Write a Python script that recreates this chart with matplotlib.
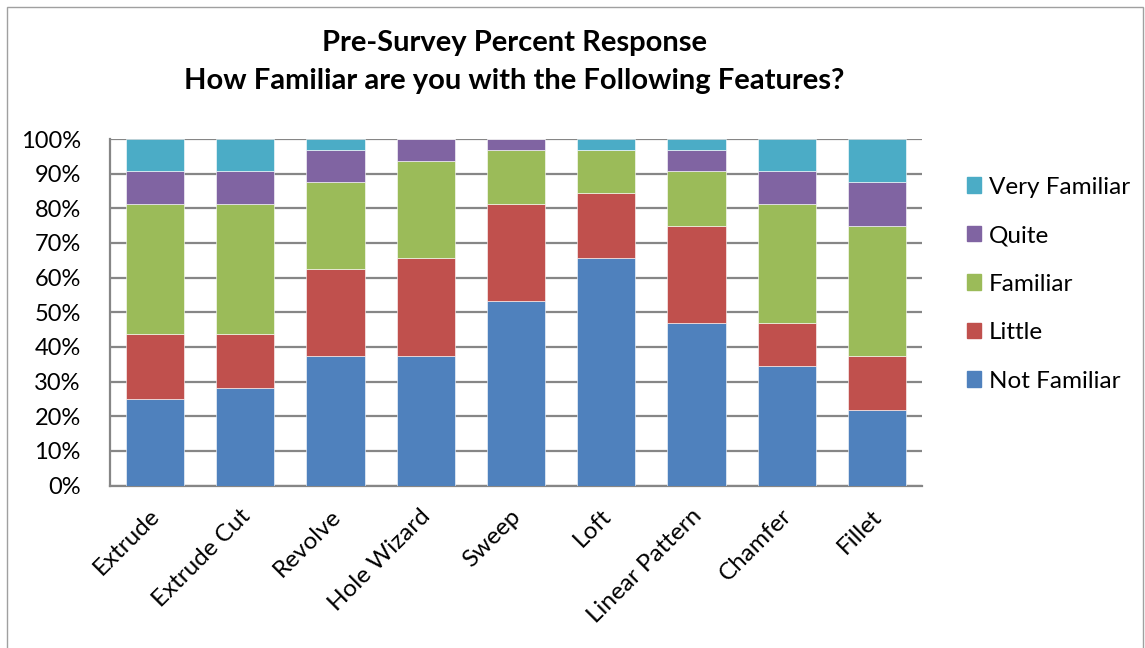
import matplotlib
matplotlib.use("Agg")
import matplotlib.pyplot as plt
import matplotlib.transforms as mtransforms
import numpy as np
from matplotlib.patches import Rectangle, Patch

plt.rcParams['font.family'] = ['Lato', 'DejaVu Sans']

categories = ["Extrude", "Extrude Cut", "Revolve", "Hole Wizard", "Sweep",
              "Loft", "Linear Pattern", "Chamfer", "Fillet"]
not_familiar = [25.0, 28.125, 37.5, 37.5, 53.125, 65.625, 46.875, 34.375, 21.875]
little = [18.75, 15.625, 25.0, 28.125, 28.125, 18.75, 28.125, 12.5, 15.625]
familiar = [37.5, 37.5, 25.0, 28.125, 15.625, 12.5, 15.625, 34.375, 37.5]
quite = [9.375, 9.375, 9.375, 6.25, 3.125, 0.0, 6.25, 9.375, 12.5]
very_familiar = [9.375, 9.375, 3.125, 0.0, 0.0, 3.125, 3.125, 9.375, 12.5]

series_names = ["Not Familiar", "Little", "Familiar", "Quite", "Very Familiar"]
series_values = [not_familiar, little, familiar, quite, very_familiar]
colors = ["#4F81BD", "#C0504D", "#9BBB59", "#8064A2", "#4BACC6"]
yticks = [0, 10, 20, 30, 40, 50, 60, 70, 80, 90, 100]

W, H = 1145, 648
fig = plt.figure(figsize=(W / 100, H / 100), dpi=100)

# outer border
fig.patches.append(Rectangle((7 / W, -0.01), (W - 9) / W, (H - 7) / H + 0.01,
                             transform=fig.transFigure, fill=False,
                             edgecolor="#a0a0a0", lw=1.0))

ax = fig.add_axes([110 / W, 1 - 485.5 / H, (922 - 110) / W, (485.5 - 139) / H])

x = np.arange(len(categories))
bottom = np.zeros(len(categories))
handles = []
for name, vals, c in zip(series_names, series_values, colors):
    vals = np.array(vals)
    ax.bar(x, vals, bottom=bottom, width=0.645, color=c, edgecolor="white",
           linewidth=0.4, zorder=3)
    bottom += vals
    handles.append(Patch(facecolor=c, edgecolor=c, label=name))

ax.set_xlim(-0.5, len(categories) - 0.5)
ax.set_ylim(0, 100)
ax.set_yticks(yticks)
ax.set_yticklabels([f"{v}%" for v in yticks], fontsize=17)
ax.yaxis.grid(True, color="#868686", linewidth=1.6, zorder=0)
ax.set_axisbelow(True)
ax.tick_params(axis="y", length=0, pad=21)
ax.tick_params(axis="x", length=0)
ax.set_xticks(x)
ax.set_xticklabels(categories, rotation=45, ha="right", va="top",
                   rotation_mode="anchor", fontsize=17.5)
for lab in ax.get_xticklabels():
    lab.set_transform(lab.get_transform() +
                      mtransforms.ScaledTranslation(-6 / 100, -15 / 100, fig.dpi_scale_trans))

for s in ["top", "right"]:
    ax.spines[s].set_visible(False)
for s in ["left", "bottom"]:
    ax.spines[s].set_color("#868686")
    ax.spines[s].set_linewidth(1.6)

fig.text(514 / W, 1 - 43 / H, "Pre-Survey Percent Response", ha="center",
         va="center", fontsize=21, fontweight="bold")
fig.text(514 / W, 1 - 81 / H, "How Familiar are you with the Following Features?",
         ha="center", va="center", fontsize=21, fontweight="bold")

leg = fig.legend(handles=handles[::-1], loc="upper left",
                 bbox_to_anchor=(957 / W, 1 - 167 / H), frameon=False,
                 fontsize=17.5, handlelength=0.6, handleheight=0.6,
                 handletextpad=0.3, labelspacing=1.13, borderaxespad=0)

fig.savefig("out.png", dpi=100)
